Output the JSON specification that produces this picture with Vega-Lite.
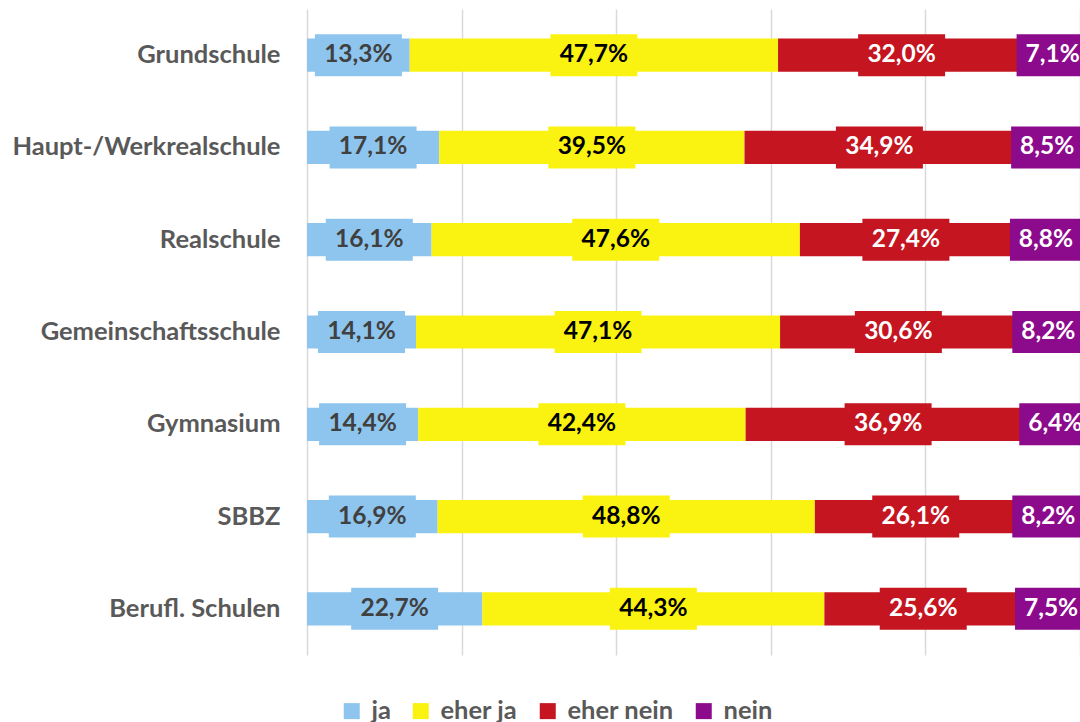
{
  "$schema": "https://vega.github.io/schema/vega-lite/v6.json",
  "width": 773,
  "height": 646,
  "autosize": {"type": "none"},
  "padding": {"left": 307, "top": 9, "right": 0, "bottom": 67},
  "background": "white",
  "config": {
    "locale": {"number": {"decimal": ",", "thousands": ".", "grouping": [3], "currency": ["", " €"]}},
    "view": {"stroke": null},
    "font": "Lato"
  },
  "data": {
    "values": [
      {"schule": "Grundschule", "kat": "ja", "o": 1, "wert": 0.133},
      {"schule": "Grundschule", "kat": "eher ja", "o": 2, "wert": 0.477},
      {"schule": "Grundschule", "kat": "eher nein", "o": 3, "wert": 0.320},
      {"schule": "Grundschule", "kat": "nein", "o": 4, "wert": 0.071},
      {"schule": "Haupt-/Werkrealschule", "kat": "ja", "o": 1, "wert": 0.171},
      {"schule": "Haupt-/Werkrealschule", "kat": "eher ja", "o": 2, "wert": 0.395},
      {"schule": "Haupt-/Werkrealschule", "kat": "eher nein", "o": 3, "wert": 0.349},
      {"schule": "Haupt-/Werkrealschule", "kat": "nein", "o": 4, "wert": 0.085},
      {"schule": "Realschule", "kat": "ja", "o": 1, "wert": 0.161},
      {"schule": "Realschule", "kat": "eher ja", "o": 2, "wert": 0.476},
      {"schule": "Realschule", "kat": "eher nein", "o": 3, "wert": 0.274},
      {"schule": "Realschule", "kat": "nein", "o": 4, "wert": 0.088},
      {"schule": "Gemeinschaftsschule", "kat": "ja", "o": 1, "wert": 0.141},
      {"schule": "Gemeinschaftsschule", "kat": "eher ja", "o": 2, "wert": 0.471},
      {"schule": "Gemeinschaftsschule", "kat": "eher nein", "o": 3, "wert": 0.306},
      {"schule": "Gemeinschaftsschule", "kat": "nein", "o": 4, "wert": 0.082},
      {"schule": "Gymnasium", "kat": "ja", "o": 1, "wert": 0.144},
      {"schule": "Gymnasium", "kat": "eher ja", "o": 2, "wert": 0.424},
      {"schule": "Gymnasium", "kat": "eher nein", "o": 3, "wert": 0.369},
      {"schule": "Gymnasium", "kat": "nein", "o": 4, "wert": 0.064},
      {"schule": "SBBZ", "kat": "ja", "o": 1, "wert": 0.169},
      {"schule": "SBBZ", "kat": "eher ja", "o": 2, "wert": 0.488},
      {"schule": "SBBZ", "kat": "eher nein", "o": 3, "wert": 0.261},
      {"schule": "SBBZ", "kat": "nein", "o": 4, "wert": 0.082},
      {"schule": "Berufl. Schulen", "kat": "ja", "o": 1, "wert": 0.227},
      {"schule": "Berufl. Schulen", "kat": "eher ja", "o": 2, "wert": 0.443},
      {"schule": "Berufl. Schulen", "kat": "eher nein", "o": 3, "wert": 0.256},
      {"schule": "Berufl. Schulen", "kat": "nein", "o": 4, "wert": 0.075}
    ]
  },
  "encoding": {
    "y": {
      "field": "schule",
      "type": "nominal",
      "sort": ["Grundschule", "Haupt-/Werkrealschule", "Realschule", "Gemeinschaftsschule", "Gymnasium", "SBBZ", "Berufl. Schulen"],
      "scale": {"paddingInner": 0.64, "paddingOuter": 0.32},
      "title": null,
      "axis": {"domain": false, "ticks": false, "grid": false, "labelFont": "Lato", "labelFontSize": 25.5, "labelFontWeight": "bold", "labelColor": "#595959", "labelPadding": 27, "labelLimit": 400}
    },
    "order": {"field": "o", "type": "quantitative"}
  },
  "layer": [
    {
      "mark": {"type": "bar"},
      "encoding": {
        "x": {"field": "wert", "type": "quantitative", "stack": "normalize", "scale": {"domain": [0, 1]}, "title": null,
          "axis": {"grid": true, "gridColor": "#D9D9D9", "gridWidth": 1.5, "labels": false, "ticks": false, "domain": false, "values": [0, 0.2, 0.4, 0.6, 0.8, 1]}},
        "color": {
          "field": "kat", "type": "nominal",
          "scale": {"domain": ["ja", "eher ja", "eher nein", "nein"], "range": ["#8EC5EE", "#FAF211", "#C41520", "#8C0A8C"]},
          "legend": {"orient": "none", "legendX": 32, "legendY": 689, "direction": "horizontal", "title": null, "symbolType": "square", "symbolSize": 256, "symbolStrokeWidth": 0, "symbolOpacity": 1, "labelFont": "Lato", "labelFontSize": 25.5, "labelFontWeight": "bold", "labelColor": "#595959", "columnPadding": 17, "labelOffset": 7, "padding": 0}
        }
      }
    },
    {
      "mark": {"type": "point", "filled": true, "opacity": 1, "strokeWidth": 0, "size": 7569},
      "encoding": {
        "x": {"field": "wert", "type": "quantitative", "stack": "normalize", "bandPosition": 0.5, "title": null,
          "axis": {"grid": true, "gridColor": "#D9D9D9", "gridWidth": 1.5, "labels": false, "ticks": false, "domain": false, "values": [0, 0.2, 0.4, 0.6, 0.8, 1]}},
        "fill": {"field": "o", "type": "nominal", "legend": null,
          "scale": {"domain": [1, 2, 3, 4], "range": ["#8EC5EE", "#FAF211", "#C41520", "#8C0A8C"]}},
        "shape": {"field": "o", "type": "nominal", "legend": null,
          "scale": {"domain": [1, 2, 3, 4], "range": ["M-1,-0.4828H1V0.4828H-1Z", "M-1,-0.4828H1V0.4828H-1Z", "M-1,-0.4828H1V0.4828H-1Z", "M-0.8276,-0.4828H0.8276V0.4828H-0.8276Z"]}}
      }
    },
    {
      "mark": {"type": "text", "font": "Lato", "fontSize": 24.5, "fontWeight": "bold", "align": "center", "baseline": "middle"},
      "encoding": {
        "x": {"field": "wert", "type": "quantitative", "stack": "normalize", "bandPosition": 0.5, "title": null,
          "axis": {"grid": true, "gridColor": "#D9D9D9", "gridWidth": 1.5, "labels": false, "ticks": false, "domain": false, "values": [0, 0.2, 0.4, 0.6, 0.8, 1]}},
        "text": {"field": "wert", "type": "quantitative", "format": ".1%"},
        "color": {
          "condition": [
            {"test": "datum.kat === 'ja'", "value": "#404040"},
            {"test": "datum.kat === 'eher ja'", "value": "#000000"}
          ],
          "value": "#FFFFFF"
        }
      }
    }
  ]
}
